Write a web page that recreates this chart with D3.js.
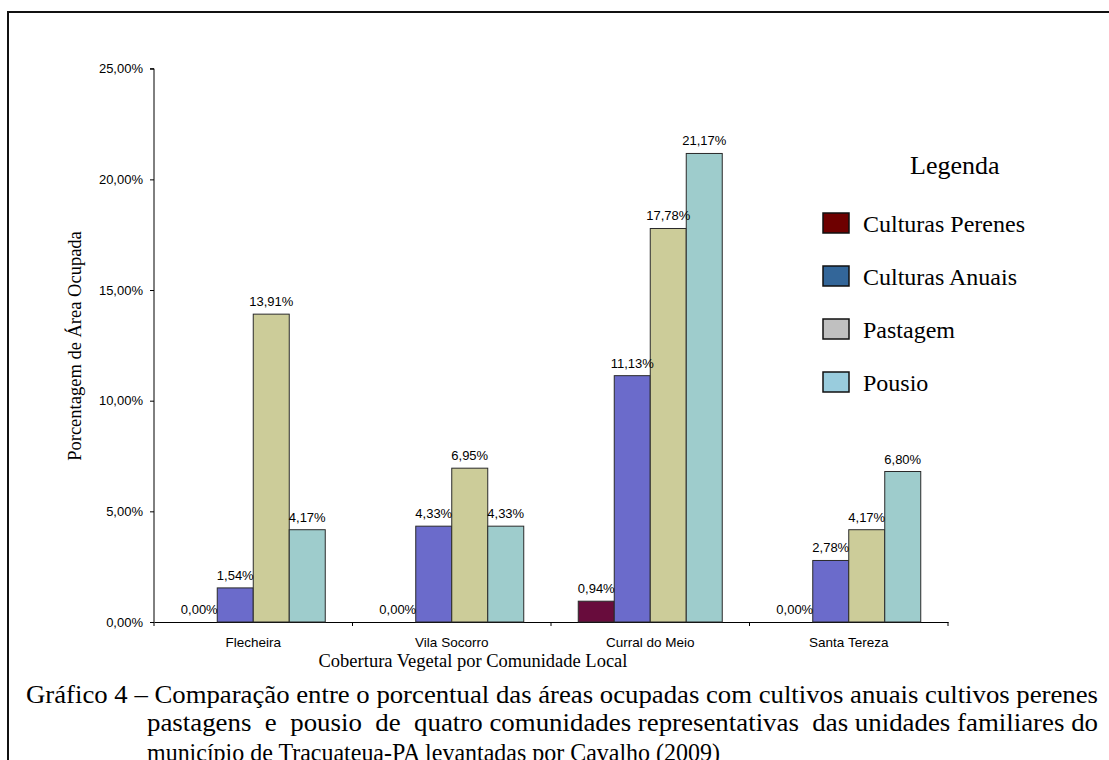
<!DOCTYPE html>
<html>
<head>
<meta charset="utf-8">
<script src="https://cdn.jsdelivr.net/npm/d3@7"></script>
<style>
  html, body { margin: 0; padding: 0; background: #fff; }
  svg { display: block; }
</style>
</head>
<body>
<div id="chart"></div>
<script>
// Communities and the four land-cover series (percent of occupied area)
const categories = ["Flecheira", "Vila Socorro", "Curral do Meio", "Santa Tereza"];
const seriesNames = ["Culturas Perenes", "Culturas Anuais", "Pastagem", "Pousio"];
const perenes = [0.00, 0.00, 0.94, 0.00];
const anuais = [1.54, 4.33, 11.13, 2.78];
const pastagem = [13.91, 6.95, 17.78, 4.17];
const pousio = [4.17, 4.33, 21.17, 6.80];
const yTicks = [0, 5, 10, 15, 20, 25];

const barColors = ["#680C3C", "#6B6BCB", "#CCCC99", "#9ECCCC"];
const legendColors = ["#6E0000", "#336699", "#C0C0C0", "#99CCDD"];

const captionLines = [
  "Gráfico 4 – Comparação entre o porcentual das áreas ocupadas com cultivos anuais cultivos perenes",
  "pastagens  e  pousio  de  quatro comunidades representativas  das unidades familiares do",
  "município de Tracuateua-PA levantadas por Cavalho (2009)"
];

const W = 1109, H = 760;
const sans = "'Liberation Sans', Arial, sans-serif";
const serif = "'Liberation Serif', 'Times New Roman', serif";

const svg = d3.select("#chart").append("svg")
  .attr("width", W).attr("height", H);

// Frame around the figure
svg.append("path")
  .attr("d", "M8,775 V12 H1120")
  .attr("fill", "none").attr("stroke", "#111").attr("stroke-width", 2);

const rows = categories.map((c, i) => ({
  category: c,
  values: [perenes[i], anuais[i], pastagem[i], pousio[i]]
}));

const x0 = d3.scaleBand().domain(categories).range([154, 948]).paddingInner(0).paddingOuter(0);
const x1 = d3.scaleBand().domain(seriesNames).range([0, x0.bandwidth()]).paddingInner(0).paddingOuter(0.757);
const y = d3.scaleLinear().domain([0, 25]).range([622, 68.7]);

const fmt = v => v.toFixed(2).replace(".", ",") + "%";

// Y axis
const yAxis = svg.append("g")
  .attr("transform", "translate(154,0)")
  .call(d3.axisLeft(y).tickValues(yTicks).tickSize(4).tickPadding(7).tickFormat(fmt));
yAxis.select(".domain").attr("stroke", "#000").attr("d", `M-4,${y(25)}H0V${y(0)}`);
yAxis.selectAll(".tick line").attr("stroke", "#000");
yAxis.selectAll(".tick text").attr("font-family", sans).attr("font-size", 13).attr("fill", "#000");

// X axis with labels centred under each community
const xAxis = svg.append("g")
  .attr("transform", "translate(0,622)")
  .call(d3.axisBottom(x0).tickSize(0).tickPadding(15));
xAxis.select(".domain").attr("stroke", "#000");
xAxis.selectAll(".tick text").attr("font-family", sans).attr("font-size", 13.5).attr("fill", "#000");

// Boundary tick marks between communities
const bounds = categories.map(c => x0(c)).concat([x0.range()[1]]);
svg.append("g").selectAll("line").data(bounds).join("line")
  .attr("x1", d => d).attr("x2", d => d)
  .attr("y1", 622).attr("y2", 626)
  .attr("stroke", "#000");

// Bars
const groups = svg.append("g").selectAll("g").data(rows).join("g")
  .attr("transform", d => `translate(${x0(d.category)},0)`);

groups.selectAll("rect")
  .data(d => d.values.map((v, k) => ({ key: seriesNames[k], v, k })).filter(e => e.v > 0))
  .join("rect")
  .attr("x", e => x1(e.key))
  .attr("y", e => y(e.v))
  .attr("width", x1.bandwidth())
  .attr("height", e => y(0) - y(e.v))
  .attr("fill", e => barColors[e.k])
  .attr("stroke", "#2a2a2a")
  .attr("stroke-width", 1);

// Value labels
groups.selectAll("text.val")
  .data(d => d.values.map((v, k) => ({ key: seriesNames[k], v, k })))
  .join("text")
  .attr("class", "val")
  .attr("x", e => x1(e.key) + x1.bandwidth() / 2)
  .attr("y", e => y(e.v) - 8)
  .attr("text-anchor", "middle")
  .attr("font-family", sans).attr("font-size", 13).attr("fill", "#000")
  .text(e => fmt(e.v));

// Axis titles
svg.append("text")
  .attr("transform", "translate(81,346) rotate(-90)")
  .attr("text-anchor", "middle")
  .attr("font-family", serif).attr("font-size", 18.5).attr("fill", "#000")
  .text("Porcentagem de Área Ocupada");

svg.append("text")
  .attr("x", 473).attr("y", 667)
  .attr("text-anchor", "middle")
  .attr("font-family", serif).attr("font-size", 18.5).attr("fill", "#000")
  .text("Cobertura Vegetal por Comunidade Local");

// Legend
const legend = svg.append("g");
legend.append("text")
  .attr("x", 910).attr("y", 174)
  .attr("font-family", serif).attr("font-size", 26).attr("fill", "#000")
  .text("Legenda");

const legendY = d3.scalePoint().domain(seriesNames).range([213, 372]);
const items = legend.selectAll("g.item").data(seriesNames).join("g")
  .attr("class", "item")
  .attr("transform", d => `translate(823,${legendY(d)})`);
items.append("rect")
  .attr("width", 26).attr("height", 20)
  .attr("fill", (d, i) => legendColors[i])
  .attr("stroke", "#111").attr("stroke-width", 1.5);
items.append("text")
  .attr("x", 40).attr("y", 19)
  .attr("font-family", serif).attr("font-size", 24).attr("fill", "#000")
  .text(d => d);

// Caption
const capX = [26, 147, 147];
const capLen = [1072, 951, 573];
const capY = [703, 731, 761];
captionLines.forEach((line, i) => {
  svg.append("text")
    .attr("x", capX[i]).attr("y", capY[i])
    .attr("font-family", serif).attr("font-size", 25).attr("fill", "#000")
    .attr("xml:space", "preserve")
    .style("white-space", "pre")
    .attr("textLength", capLen[i]).attr("lengthAdjust", "spacingAndGlyphs")
    .text(line);
});
</script>
</body>
</html>
